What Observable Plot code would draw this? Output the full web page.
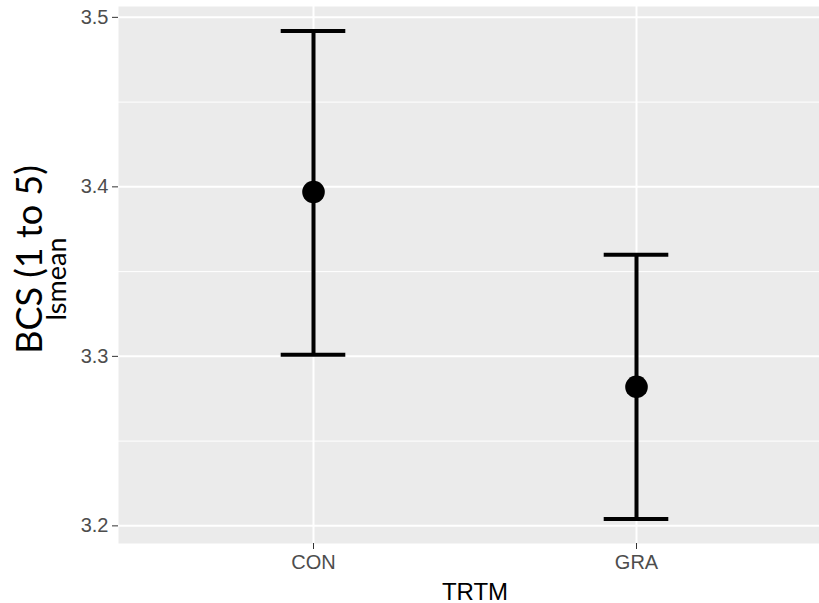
<!DOCTYPE html>
<html>
<head>
<meta charset="utf-8">
<script src="https://cdn.jsdelivr.net/npm/d3@7"></script>
<script src="https://cdn.jsdelivr.net/npm/@observablehq/plot@0.6"></script>
<style>
  html, body { margin: 0; padding: 0; background: #fff; }
  #chart svg { display: block; }
  g[aria-label="y-axis tick label"] text, g[aria-label="x-axis tick label"] text { fill: #4d4d4d; }
</style>
</head>
<body>
<div id="chart"></div>
<script>
const categories = ["CON", "GRA"];
const lsmean = [3.397, 3.282];
const lower = [3.301, 3.204];
const upper = [3.492, 3.360];
const yTicks = [3.2, 3.3, 3.4, 3.5];
const yMinor = [3.25, 3.35, 3.45];
const xTitle = "TRTM";
const yTitle = "BCS (1 to 5)";
const ySub = "lsmean";

const data = categories.map((c, i) => ({i: i + 1, cat: c, mean: lsmean[i], lo: lower[i], hi: upper[i]}));
const xPos = categories.map((c, i) => i + 1);

const chart = Plot.plot({
  width: 819,
  height: 603,
  marginLeft: 118,
  marginRight: 0,
  marginTop: 6,
  marginBottom: 60,
  style: {fontFamily: "'Liberation Sans', Arial, sans-serif", color: "#333333", background: "#ffffff"},
  x: {type: "linear", domain: [0.4, 2.6], range: [119.2, 829.8]},
  y: {domain: [3.1896, 3.5064]},
  marks: [
    Plot.frame({fill: "#EBEBEB", stroke: null}),
    Plot.ruleY(yMinor, {stroke: "white", strokeWidth: 1}),
    Plot.ruleY(yTicks, {stroke: "white", strokeWidth: 2}),
    Plot.ruleX(xPos, {stroke: "white", strokeWidth: 2}),
    Plot.ruleX(data, {x: "i", y1: "lo", y2: "hi", stroke: "black", strokeWidth: 4}),
    Plot.ruleY(data, {y: "hi", x1: d => d.i - 0.1, x2: d => d.i + 0.1, stroke: "black", strokeWidth: 4}),
    Plot.ruleY(data, {y: "lo", x1: d => d.i - 0.1, x2: d => d.i + 0.1, stroke: "black", strokeWidth: 4}),
    Plot.dot(data, {x: "i", y: "mean", r: 11.3, fill: "black", stroke: null}),
    Plot.axisY(yTicks, {tickSize: 6, tickPadding: 4, fontSize: 20, tickFormat: d3.format(".1f"), label: null}),
    Plot.axisX(xPos, {tickSize: 6, tickPadding: 5, fontSize: 20, tickFormat: d => categories[d - 1], label: null}),
    Plot.text([xTitle], {frameAnchor: "bottom", dx: 6, dy: 56, lineAnchor: "bottom", textAnchor: "middle", fontSize: 24, fill: "black"}),
    Plot.text([yTitle], {frameAnchor: "left", rotate: -90, dx: -77, dy: -15.5, lineAnchor: "bottom", textAnchor: "middle", fontSize: 36, fontFamily: "Lato, sans-serif", fill: "black"}),
    Plot.text([ySub], {frameAnchor: "left", rotate: -90, dx: -53, dy: 4, lineAnchor: "bottom", textAnchor: "middle", fontSize: 27, fontFamily: "Lato, sans-serif", fill: "black"})
  ]
});
document.getElementById("chart").appendChild(chart);
</script>
</body>
</html>
